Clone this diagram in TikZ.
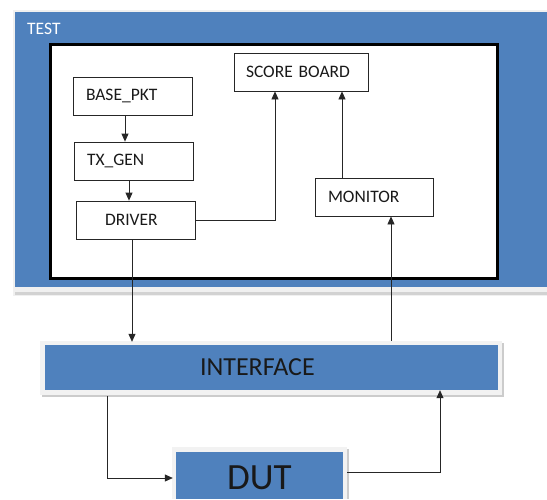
\documentclass[tikz,border=0pt]{standalone}
\usepackage{fontspec}
\setmainfont{Carlito}
\usetikzlibrary{arrows.meta}
\definecolor{tbblue}{HTML}{4F81BD}
\tikzset{
  blk/.style={draw=black!85,line width=.8pt,fill=white,minimum height=38pt,
    inner sep=0pt,align=left,text=black!90,font=\fontsize{17.5}{20}\selectfont},
  arr/.style={draw=black!85,line width=.8pt,-{Triangle[width=7pt,length=8pt]}},
  bluebox/.style={fill=tbblue,inner sep=0pt,text=black!90}
}
\begin{document}
\begin{tikzpicture}[x=1pt,y=-1pt]
  \useasboundingbox[fill=white] (0,0) rectangle (547,499);
  \fill[gray!12] (13,10) rectangle (547,296);
  \fill[tbblue] (15,12) rectangle (547,287);
  \fill[gray!35] (15,292) rectangle (547,295);
  \draw[line width=3pt,fill=white] (50,44) rectangle (497,278);
  \node[anchor=base west,text=white,inner sep=0pt,font=\fontsize{17.5}{20}\selectfont] (test) at (27,34) {TEST};
  \node[blk,text width=93pt,inner xsep=13pt] (base) at (132.5,96) {BASE\_PKT};
  \node[blk,text width=93pt,inner xsep=13pt] (txgen) at (133.5,161) {TX\_GEN};
  \node[blk,text width=61pt,inner xsep=29pt] (driver) at (135.5,220) {DRIVER};
  \node[blk,text width=110pt,inner xsep=12pt] (score) at (301,72) {SCORE BOARD};
  \node[blk,text width=92pt,inner xsep=13pt] (monitor) at (374,197) {MONITOR};
  \fill[gray!40] (42,343) rectangle (504,397);
  \fill[gray!10] (40,341) rectangle (502,395);
  \node[bluebox,minimum width=453pt,minimum height=45pt,text width=143pt,inner xsep=155pt,align=left,
    font=\fontsize{26}{30}\selectfont] (iface) at (271.5,367.5) {INTERFACE};
  \fill[gray!40] (174,449) rectangle (349,499);
  \fill[gray!10] (172,447) rectangle (347,499);
  \node[bluebox,minimum width=167pt,minimum height=47pt,text height=28pt,text depth=0pt,
    font=\fontsize{37}{40}\selectfont] (dut) at (259.5,475.5) {DUT};
  \draw[arr] ([xshift=-7.5pt]base.south) -- ([xshift=-8.5pt]txgen.north);
  \draw[arr] ([xshift=-4.5pt]txgen.south) -- ([xshift=-6.5pt]driver.north);
  \draw[arr] (driver.east) -| ([xshift=-26pt]score.south);
  \draw[arr] ([xshift=-32pt]monitor.north) -- ([xshift=-32pt]monitor.north |- score.south);
  \draw[arr] ([xshift=-3.5pt]driver.south) -- ([xshift=-3.5pt,yshift=3pt]driver.south |- iface.north);
  \draw[arr] ([xshift=17pt,yshift=4pt]monitor.south |- iface.north) -- ([xshift=17pt]monitor.south);
  \draw[arr] ([xshift=-164.5pt,yshift=-6pt]iface.south) |- ([xshift=-3pt,yshift=-2.5pt]dut.west);
  \draw[arr] ([xshift=4pt,yshift=3.5pt]dut.east) -| ([xshift=168.5pt]iface.south);
\end{tikzpicture}
\end{document}
